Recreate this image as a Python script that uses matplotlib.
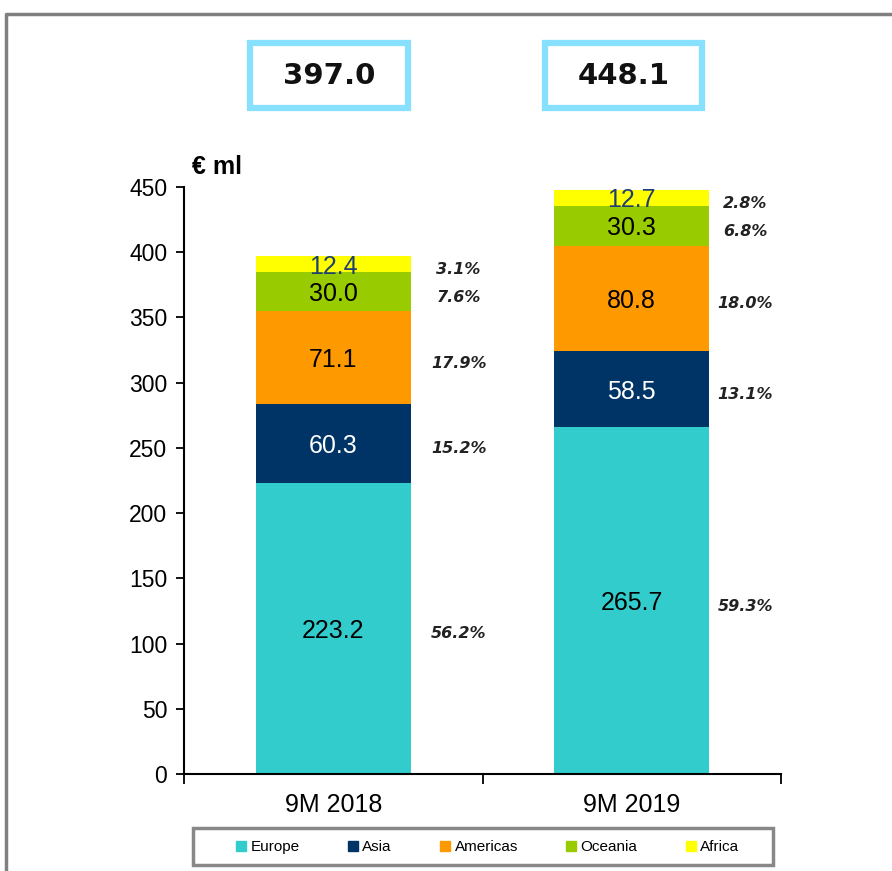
import matplotlib
matplotlib.use("Agg")
import matplotlib.pyplot as plt
from matplotlib.patches import Rectangle
from matplotlib.lines import Line2D
import numpy as np

periods = ["9M 2018", "9M 2019"]
regions = ["Europe", "Asia", "Americas", "Oceania", "Africa"]
europe = [223.2, 265.7]
asia = [60.3, 58.5]
americas = [71.1, 80.8]
oceania = [30.0, 30.3]
africa = [12.4, 12.7]
pct_2018 = ["56.2%", "15.2%", "17.9%", "7.6%", "3.1%"]
pct_2019 = ["59.3%", "13.1%", "18.0%", "6.8%", "2.8%"]
totals = ["397.0", "448.1"]

colors = ["#33CCCC", "#003366", "#FF9900", "#99CC00", "#FFFF00"]
label_colors = ["black", "white", "black", "black", "#1F3F73"]
pct_offset = [0.42, 0.38]

plt.rcParams['font.family'] = ['Liberation Sans', 'DejaVu Sans']

fig = plt.figure(figsize=(8.92, 8.71), dpi=100)
ax = fig.add_axes([184/892, 1 - 774/871, 597/892, 587/871])

x = np.array([0.5, 1.5])
series = [europe, asia, americas, oceania, africa]
pcts = [pct_2018, pct_2019]
bottom = np.zeros(2)
for k, vals in enumerate(series):
    vals = np.array(vals)
    ax.bar(x, vals, width=0.52, bottom=bottom, color=colors[k], label=regions[k])
    for i in range(2):
        yc = bottom[i] + vals[i] / 2
        ax.text(x[i], yc, f"{vals[i]:.1f}", ha='center', va='center_baseline',
                fontsize=18, color=label_colors[k])
        ax.text(x[i] + pct_offset[i], yc - 3, pcts[i][k], ha='center',
                va='center_baseline', fontsize=11.5, style='italic',
                fontweight='bold', color='#222222', family='DejaVu Sans')
    bottom += vals

ax.set_xlim(0, 2)
ax.set_ylim(0, 450)
ax.set_yticks(range(0, 451, 50))
ax.tick_params(axis='y', labelsize=16.5, length=6, width=1.3, pad=6)
ax.set_xticks([0, 1, 2], labels=['', '', ''])
ax.tick_params(axis='x', which='major', length=7, width=1.3)
ax.set_xticks(x, labels=periods, minor=True)
ax.tick_params(axis='x', which='minor', length=0, labelsize=18, pad=14)
for s in ['top', 'right']:
    ax.spines[s].set_visible(False)
for s in ['left', 'bottom']:
    ax.spines[s].set_linewidth(1.5)

fig.text(192/892, 1 - 167/871, "€ ml", fontsize=18, fontweight='bold',
         ha='left', va='center')

# total boxes
boxes = [(250, 408), (545, 702)]
for (x0, x1), t in zip(boxes, totals):
    fig.add_artist(Rectangle((x0/892, 1 - 108/871), (x1 - x0)/892, 65/871,
                             transform=fig.transFigure, fill=False,
                             edgecolor='#88E0FF', linewidth=4.5))
    fig.text((x0 + x1) / 2 / 892, 1 - 76/871, t, fontsize=21, fontweight='bold',
             ha='center', va='center', family='DejaVu Sans', color='#111111')

# outer frame
fig.add_artist(Line2D([6/892, 6/892, 1], [0, 1 - 14/871, 1 - 14/871],
                      transform=fig.transFigure, color='#808080', linewidth=2.5))

# legend box
fig.add_artist(Rectangle((193/892, 1 - 865/871), 580/892, 37/871,
                         transform=fig.transFigure, fill=False,
                         edgecolor='#888888', linewidth=2.5))
handles = [Line2D([], [], marker='s', linestyle='none', markersize=7,
                  markerfacecolor=c, markeredgecolor=c) for c in colors]
fig.legend(handles, regions, loc='center', bbox_to_anchor=(488/892, 1 - 847/871),
           ncol=5, frameon=False, fontsize=11, handlelength=0.6,
           handletextpad=0.3, columnspacing=3.2)

fig.savefig("out.png", dpi=100)
